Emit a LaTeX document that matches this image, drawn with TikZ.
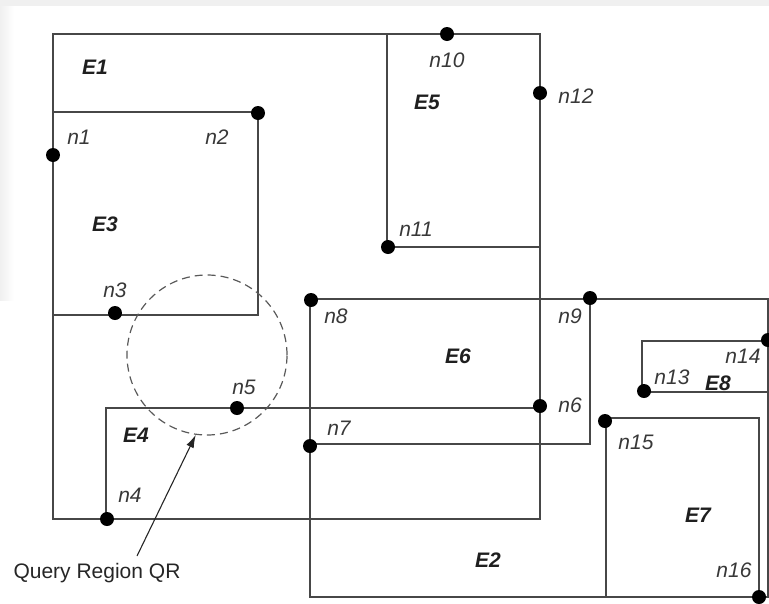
\documentclass[tikz,border=0pt]{standalone}
\usepackage{fontspec}
\newfontfamily\arialf{Liberation Sans}
\usetikzlibrary{arrows.meta}
\tikzset{
  edge/.style={draw=black!72, line width=1.3pt},
  dot/.style={circle, fill=black, inner sep=0pt, minimum size=14pt},
  nlab/.style={font=\arialf\fontsize{21}{24}\selectfont\itshape, text=black!78, inner sep=0pt},
  elab/.style={font=\arialf\fontsize{21}{24}\selectfont\bfseries\itshape, text=black!88, inner sep=0pt},
  qlab/.style={font=\arialf\fontsize{21}{24}\selectfont, text=black!85, inner sep=0pt},
  qrcircle/.style={circle, draw=black!65, line width=1.2pt, dash pattern=on 8pt off 5pt, minimum size=160pt, inner sep=0pt},
}
\begin{document}
\begin{tikzpicture}[x=1pt,y=-1pt]
\useasboundingbox (0,0) rectangle (769,603);
% background margins
\fill[black!6] (0,0) rectangle (769,6);
\shade[left color=black!6, right color=white] (0,6) rectangle (14,300);
% rectangles
\draw[edge] (53,34) rectangle (540,519);   % E1
\draw[edge] (53,112) rectangle (258,315);  % E3
\draw[edge] (387,34) rectangle (540,247);  % E5
\draw[edge] (310,299) rectangle (768,597); % E2
\draw[edge] (310,299) rectangle (590,444); % E6
\draw[edge] (106,408) rectangle (540,519); % E4
\draw[edge] (642,341) rectangle (768,392); % E8
\draw[edge] (606,418) rectangle (759,597); % E7
% query region
\node[qrcircle] (qr) at (207,355) {};
\node[qlab] (qrl) at (97,573) {Query Region QR};
\draw[black!85, line width=1.1pt, -{Latex[length=13pt,width=8pt]}] (137,556) -- (qr.262);
% dots
\node[dot] (n1) at (53,155) {};
\node[dot] (n2) at (258,113) {};
\node[dot] (n3) at (115,313) {};
\node[dot] (n4) at (107,519) {};
\node[dot] (n5) at (237,408) {};
\node[dot] (n6) at (540,406) {};
\node[dot] (n7) at (310,446) {};
\node[dot] (n8) at (311,300) {};
\node[dot] (n9) at (590,298) {};
\node[dot] (n10) at (447,34) {};
\node[dot] (n11) at (388,247) {};
\node[dot] (n12) at (540,93) {};
\node[dot] (n13) at (644,391) {};
\node[dot] (n14) at (768,340) {};
\node[dot] (n15) at (605,421) {};
\node[dot] (n16) at (759,597) {};
% labels
\node[elab] (e1) at (95,67) {E1};
\node[elab] (e3) at (105,224) {E3};
\node[elab] (e5) at (427,102) {E5};
\node[elab] (e6) at (458,356) {E6};
\node[elab] (e4) at (136,435) {E4};
\node[elab] (e2) at (488,560) {E2};
\node[elab] (e8) at (718,383) {E8};
\node[elab] (e7) at (698,515) {E7};
\node[nlab] (l1) at (79,137) {n1};
\node[nlab] (l2) at (217,137) {n2};
\node[nlab] (l3) at (115,290) {n3};
\node[nlab] (l4) at (130,495) {n4};
\node[nlab] (l5) at (244,387) {n5};
\node[nlab] (l6) at (570,405) {n6};
\node[nlab] (l7) at (339,428) {n7};
\node[nlab] (l8) at (336,316) {n8};
\node[nlab] (l9) at (570,316) {n9};
\node[nlab] (l10) at (447,60) {n10};
\node[nlab] (l11) at (416,229) {n11};
\node[nlab] (l12) at (576,96) {n12};
\node[nlab] (l13) at (672,377) {n13};
\node[nlab] (l14) at (743,356) {n14};
\node[nlab] (l15) at (636,442) {n15};
\node[nlab] (l16) at (734,570) {n16};
\end{tikzpicture}
\end{document}
